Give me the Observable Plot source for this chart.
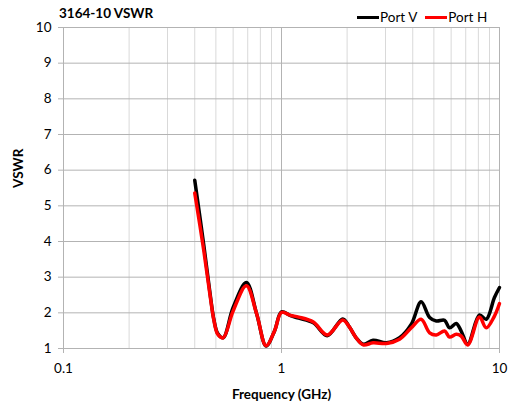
<!DOCTYPE html>
<html>
<head>
<meta charset="utf-8">
<script src="https://cdn.jsdelivr.net/npm/d3@7"></script>
<script src="https://cdn.jsdelivr.net/npm/@observablehq/plot@0.6"></script>
<style>
  body { margin: 0; background: #fff; }
  #wrap { position: relative; width: 508px; height: 408px; font-family: Lato, "Open Sans", sans-serif; }
  #title { position: absolute; left: 59px; top: 5px; font-size: 13.5px; font-weight: bold; color: #000; }
  #legend { position: absolute; left: 357px; top: 9px; font-size: 13.5px; color: #000; display: flex; align-items: center; }
  .sw { display: inline-block; width: 22px; height: 3px; margin-right: 1px; }
  .item { display: flex; align-items: center; margin-right: 8px; }
</style>
</head>
<body>
<div id="wrap">
  <div id="chart"></div>
  <div id="title">3164-10 VSWR</div>
  <div id="legend">
    <span class="item"><span class="sw" style="background:#000"></span>Port V</span>
    <span class="item"><span class="sw" style="background:#ff0000"></span>Port H</span>
  </div>
</div>
<script>
const freqGHz = [0.40, 0.44, 0.47, 0.49, 0.51, 0.54, 0.60, 0.69, 0.77, 0.85, 0.93, 1.00, 1.10, 1.20, 1.40, 1.62, 1.91, 2.05, 2.20, 2.37, 2.63, 3.03, 3.48, 3.94, 4.37, 4.78, 5.13, 5.60, 5.90, 6.33, 6.67, 7.15, 8.09, 8.69, 9.48, 10.0];
const portV = [5.72, 3.90, 2.55, 1.80, 1.42, 1.30, 2.15, 2.85, 1.96, 1.07, 1.50, 2.03, 1.92, 1.85, 1.72, 1.36, 1.83, 1.60, 1.30, 1.12, 1.23, 1.16, 1.30, 1.68, 2.31, 1.87, 1.77, 1.79, 1.58, 1.70, 1.49, 1.12, 1.94, 1.82, 2.43, 2.71];
const portH = [5.36, 3.75, 2.50, 1.78, 1.40, 1.30, 2.05, 2.76, 1.96, 1.08, 1.50, 2.01, 1.93, 1.88, 1.74, 1.38, 1.80, 1.60, 1.30, 1.10, 1.16, 1.14, 1.26, 1.58, 1.82, 1.44, 1.38, 1.49, 1.32, 1.40, 1.35, 1.10, 1.88, 1.58, 1.91, 2.26];
const xMajorTicks = [0.1, 1, 10];
const xMinorTicks = [0.2, 0.3, 0.4, 0.5, 0.6, 0.7, 0.8, 0.9, 2, 3, 4, 5, 6, 7, 8, 9];
const yTicks = [1, 2, 3, 4, 5, 6, 7, 8, 9, 10];

const dataV = freqGHz.map((f, i) => ({f, v: portV[i]}));
const dataH = freqGHz.map((f, i) => ({f, v: portH[i]}));

const chart = Plot.plot({
  width: 508,
  height: 408,
  marginLeft: 63,
  marginRight: 9,
  marginTop: 27,
  marginBottom: 60,
  style: {fontFamily: "Lato, 'Open Sans', sans-serif", fontSize: "13.5px", color: "#000", background: "#fff"},
  x: {type: "log", domain: [0.1, 10]},
  y: {domain: [1, 10]},
  marks: [
    Plot.ruleX(xMinorTicks, {stroke: "#d9d9d9", strokeWidth: 1}),
    Plot.ruleY(yTicks, {stroke: "#b3b3b3", strokeWidth: 1}),
    Plot.ruleX(xMajorTicks, {stroke: "#b3b3b3", strokeWidth: 1}),
    Plot.axisX({ticks: xMajorTicks, tickFormat: d => String(d), tickSize: 5, tickPadding: 10, stroke: "#b3b3b3", label: null}),
    Plot.axisY({ticks: yTicks, tickFormat: d => String(d), tickSize: 5, tickPadding: 7, stroke: "#b3b3b3", label: null}),
    Plot.line(dataV, {x: "f", y: "v", stroke: "#000", strokeWidth: 3.5, curve: "catmull-rom"}),
    Plot.line(dataH, {x: "f", y: "v", stroke: "#ff0000", strokeWidth: 3.5, curve: "catmull-rom"}),
    Plot.text(["Frequency (GHz)"], {frameAnchor: "bottom", dy: 50, text: d => d, fontWeight: "bold", fontSize: 13.5}),
    Plot.text(["VSWR"], {frameAnchor: "left", dx: -45, rotate: -90, text: d => d, fontWeight: "bold", fontSize: 13.5})
  ]
});
document.getElementById("chart").appendChild(chart);
</script>
</body>
</html>
